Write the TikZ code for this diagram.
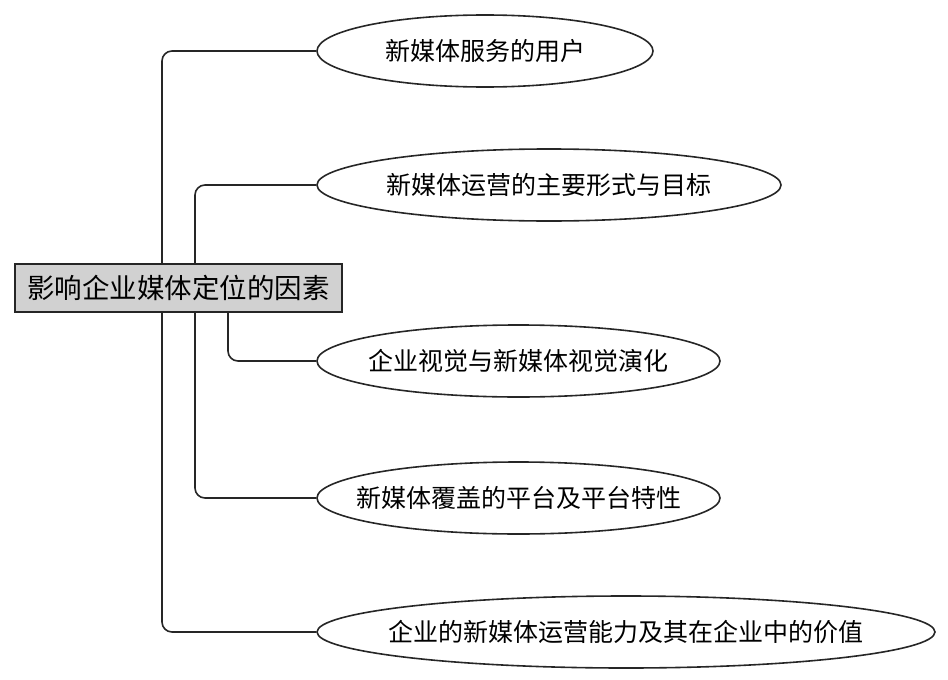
\documentclass[tikz,border=0pt]{standalone}
\usepackage{fontspec}
\newfontfamily\cjk{Noto Sans CJK SC}
\usetikzlibrary{shapes.geometric}
\tikzset{
  factor/.style={draw=black!85, line width=1.5pt, fill=black!18, minimum width=327pt, minimum height=48pt, inner sep=0pt, font=\cjk\fontsize{27.5}{30}\selectfont},
  item/.style={ellipse, draw=black!85, line width=1.6pt, minimum height=72pt, inner sep=0pt, font=\cjk\fontsize{25}{27}\selectfont},
  link/.style={draw=black!85, line width=1.6pt, rounded corners=10pt}
}
\begin{document}
\begin{tikzpicture}[x=1pt,y=-1pt]
\useasboundingbox (0,0) rectangle (948,680);
\node[factor] (box) at (178.5,288) {影响企业媒体定位的因素};
\node[item, minimum width=336pt] (e1) at (485,51) {\makebox[0pt]{新媒体服务的用户}};
\node[item, minimum width=464pt] (e2) at (549,185) {\makebox[0pt]{新媒体运营的主要形式与目标}};
\node[item, minimum width=403pt] (e3) at (518.5,361) {\makebox[0pt]{企业视觉与新媒体视觉演化}};
\node[item, minimum width=403pt] (e4) at (518.5,498) {\makebox[0pt]{新媒体覆盖的平台及平台特性}};
\node[item, minimum width=618pt] (e5) at (626,632) {\makebox[0pt]{企业的新媒体运营能力及其在企业中的价值}};
\coordinate (ca) at (162,0);
\coordinate (cb) at (195,0);
\coordinate (cc) at (228,0);
\draw[link] (box.north -| ca) |- (e1.west);
\draw[link] (box.north -| cb) |- (e2.west);
\draw[link] (box.south -| cc) |- (e3.west);
\draw[link] (box.south -| cb) |- (e4.west);
\draw[link] (box.south -| ca) |- (e5.west);
\end{tikzpicture}
\end{document}
